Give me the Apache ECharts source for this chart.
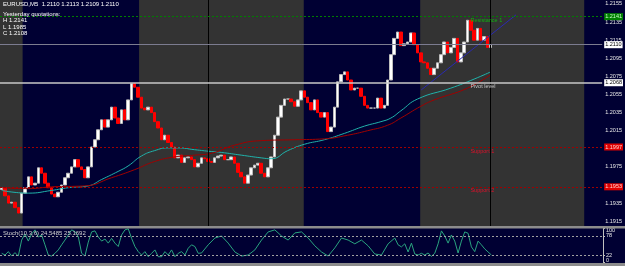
<!DOCTYPE html>
<html>
<head>
<meta charset="utf-8">
<script src="https://cdn.jsdelivr.net/npm/echarts@6.0.0/dist/echarts.min.js"></script>
<style>
html, body { margin: 0; padding: 0; background: #000033; }
#chart { width: 625px; height: 266px; }
</style>
</head>
<body>
<div id="chart"></div>
<script>
// EURUSD M5 closes, one value per bar
var firstOpen = 1.1950;
var closes = [
  1.1952, 1.1943, 1.1935, 1.1936, 1.1930, 1.1924, 1.1946, 1.1952, 1.1964, 1.1955,
  1.1957, 1.1974, 1.1968, 1.1957, 1.1952, 1.1945, 1.1942, 1.1947, 1.1955, 1.1963,
  1.1968, 1.1975, 1.1983, 1.1975, 1.1972, 1.1963, 1.1975, 1.1997, 1.2005, 1.2016,
  1.2027, 1.2019, 1.2027, 1.2041, 1.2029, 1.2023, 1.2038, 1.2027, 1.2049, 1.2067,
  1.2063, 1.2052, 1.2040, 1.2038, 1.2041, 1.2035, 1.2025, 1.2018, 1.2005, 1.2010,
  1.2002, 1.1997, 1.1985, 1.1988, 1.1980, 1.1985, 1.1986, 1.1983, 1.1975, 1.1979,
  1.1985, 1.1984, 1.1981, 1.1980, 1.1985, 1.1987, 1.1988, 1.1983, 1.1983, 1.1986,
  1.1979, 1.1969, 1.1964, 1.1957, 1.1966, 1.1974, 1.1977, 1.1979, 1.1968, 1.1964,
  1.1974, 1.1986, 1.2010, 1.2030, 1.2043, 1.2050, 1.2050, 1.2047, 1.2042, 1.2049,
  1.2059, 1.2052, 1.2046, 1.2038, 1.2049, 1.2035, 1.2030, 1.2035, 1.2014, 1.2019,
  1.2041, 1.2069, 1.2077, 1.2080, 1.2071, 1.2060, 1.2062, 1.2062, 1.2053, 1.2043,
  1.2040, 1.2040, 1.2040, 1.2051, 1.2040, 1.2043, 1.2071, 1.2099, 1.2117, 1.2124,
  1.2109, 1.2111, 1.2113, 1.2123, 1.2110, 1.2101, 1.2091, 1.2090, 1.2084, 1.2077,
  1.2084, 1.2090, 1.2099, 1.2113, 1.2101, 1.2107, 1.2117, 1.2091, 1.2101, 1.2113,
  1.2137, 1.2126, 1.2115, 1.2128, 1.2115, 1.2119, 1.2107, 1.2110
];
var barSlots = 181;

// moving averages, [bar, value]
var maCyan = [[0,1.1949],[8,1.1946],[15,1.1949],[20,1.1952],[26,1.1954],[30,1.1961],
  [35,1.1970],[38,1.1976],[42,1.1987],[46,1.1993],[50,1.1996],[53,1.1996],[58,1.1994],
  [63,1.1992],[66,1.1991],[72,1.1988],[78,1.1985],[81,1.1984],[86,1.1993],[91,1.2000],
  [97,1.2005],[103,1.2012],[109,1.2020],[114,1.2025],[117,1.2029],[120,1.2037],
  [125,1.2050],[135,1.2062],[142,1.2072],[147,1.2080]];
var maRed = [[0,1.1952],[8,1.1951],[15,1.1953],[25,1.1954],[33,1.1963],[40,1.1972],
  [46,1.1981],[52,1.1986],[58,1.1988],[63,1.1990],[70,1.1999],[78,1.2004],[88,1.2005],
  [97,1.2006],[104,1.2010],[110,1.2015],[116,1.2021],[120,1.2029],[126,1.2042],
  [130,1.2049],[140,1.2062],[147,1.2077]];

// stochastic main line, [bar, value]
var stoch = [[0,27],[1,22],[2,32],[3,19],[4,29],[5,19],[6,66],[7,84],[8,63],[9,84],
  [10,96],[11,75],[12,81],[13,52],[14,22],[15,19],[16,27],[17,37],[18,52],[19,66],
  [20,81],[21,96],[22,91],[23,76],[24,27],[25,19],[26,60],[27,90],[28,93],[29,75],
  [30,63],[31,69],[32,57],[33,71],[34,57],[35,47],[36,81],[37,96],[38,99],[39,71],
  [40,47],[41,32],[42,22],[43,32],[44,17],[45,27],[46,37],[47,17],[48,17],[49,32],
  [50,22],[51,37],[52,17],[53,27],[54,32],[55,22],[56,42],[57,52],[58,47],[59,27],
  [60,28],[62,52],[64,72],[66,78],[68,57],[70,31],[72,19],[74,22],[76,37],[78,66],
  [80,90],[82,96],[84,78],[86,66],[88,87],[90,90],[92,72],[94,49],[96,31],[98,19],
  [100,43],[102,72],[104,66],[106,55],[108,66],[110,49],[112,25],[114,22],[116,55],
  [118,72],[119,52],[120,46],[121,55],[122,31],[123,57],[124,25],[125,22],[126,27],
  [127,22],[128,28],[129,18],[130,27],[131,55],[132,93],[133,78],[134,57],[135,81],
  [136,63],[137,28],[138,63],[139,90],[140,86],[141,46],[142,32],[143,63],[144,52],
  [145,40],[146,31],[147,22]];

// session shading (bar units) and separators
var grayBands = [[0, 6.8], [41.8, 91.3], [126.3, 175.6]];
var dayLines = [62.7, 147.3];
var trendLine = [[126.6, 1.2060], [155.1, 1.2143]];

// levels
var resistance1 = 1.2141;
var lastPrice = 1.2110;
var pivotLevel = 1.2068;
var support1 = 1.1997;
var support2 = 1.1953;

var priceTicks = [1.2155, 1.2135, 1.2115, 1.2095, 1.2075, 1.2055, 1.2035, 1.2015, 1.1975, 1.1935, 1.1915];
var stochTicks = [100, 78, 22, 0];
var stochLevels = [78, 22];
// where the "100" and "0" scale texts sit (kept inside the small panel)
var stochEdgeLabels = [[95, '100'], [6, '0']];
var priceMin = 1.19097, priceMax = 1.21594;

var FONT = 'Liberation Sans';

var cats = [];
for (var i = 0; i < barSlots; i++) cats.push(String(i));
var candles = [];
var prev = firstOpen;
closes.forEach(function (c) {
  candles.push([prev, c, Math.min(prev, c), Math.max(prev, c)]);
  prev = c;
});

function boxLabel(bg, fg) {
  return {
    show: true, position: 'end', distance: 2,
    formatter: function (p) { return Number(p.value).toFixed(4); },
    backgroundColor: bg, color: fg, fontSize: 5.5, fontFamily: FONT,
    padding: [1, 1, 0, 1]
  };
}
function textSeg(v, text, color) {
  return [
    { coord: [141.1, v], lineStyle: { color: 'rgba(0,0,0,0)', width: 0 },
      label: { show: true, position: 'insideStartBottom', distance: 1, formatter: text,
               color: color, fontSize: 5.5, fontFamily: FONT } },
    { coord: [152, v] }
  ];
}
function stochEdge(e) {
  return {
    yAxis: e[0], lineStyle: { color: 'rgba(0,0,0,0)', width: 0 },
    label: { show: true, position: 'end', distance: 3, formatter: e[1],
             color: '#e8e8e8', fontSize: 5.5, fontFamily: FONT }
  };
}

var chart = echarts.init(document.getElementById('chart'));
chart.setOption({
  backgroundColor: '#000033',
  animation: false,
  grid: [
    { left: 0, top: 0, width: 603, height: 226 },
    { left: 0, top: 228.5, width: 603, height: 34 }
  ],
  xAxis: [
    { type: 'category', gridIndex: 0, data: cats, show: false },
    { type: 'value', gridIndex: 0, min: 0, max: barSlots, show: false },
    { type: 'category', gridIndex: 1, data: cats, show: false }
  ],
  yAxis: [
    {
      type: 'value', gridIndex: 0, position: 'right', min: priceMin, max: priceMax,
      splitLine: { show: false },
      axisLine: { show: true, lineStyle: { color: '#c0c0c0' } },
      axisTick: { show: true, length: 2, customValues: priceTicks, lineStyle: { color: '#c0c0c0' } },
      axisLabel: { customValues: priceTicks, color: '#e8e8e8', fontSize: 5.5, fontFamily: FONT, margin: 3,
                   formatter: function (v) { return v.toFixed(4); } }
    },
    {
      type: 'value', gridIndex: 1, position: 'right', min: 0, max: 100,
      splitLine: { show: false },
      axisLine: { show: true, lineStyle: { color: '#c0c0c0' } },
      axisTick: { show: true, length: 2, customValues: stochTicks, lineStyle: { color: '#c0c0c0' } },
      axisLabel: { customValues: stochLevels, color: '#e8e8e8', fontSize: 5.5, fontFamily: FONT, margin: 3 }
    }
  ],
  series: [
    {
      // session bands
      type: 'line', xAxisIndex: 1, yAxisIndex: 0, data: [], z: 0, silent: true,
      markArea: {
        silent: true, itemStyle: { color: '#333333' },
        data: grayBands.map(function (b) { return [{ xAxis: b[0] }, { xAxis: b[1] }]; })
      }
    },
    {
      // levels and separators
      type: 'line', xAxisIndex: 1, yAxisIndex: 0, data: [], z: 2, silent: true,
      markLine: {
        silent: true, symbol: 'none', animation: false, precision: 4,
        data: [
          { xAxis: dayLines[0], lineStyle: { color: '#000000', width: 1, type: 'solid' }, label: { show: false } },
          { xAxis: dayLines[1], lineStyle: { color: '#000000', width: 1, type: 'solid' }, label: { show: false } },
          { yAxis: resistance1, lineStyle: { color: '#008000', width: 1, type: [2, 2] }, label: boxLabel('#008000', '#c8ffc8') },
          { yAxis: lastPrice, lineStyle: { color: '#7c7c90', width: 1, type: 'solid' }, label: boxLabel('#ffffff', '#000000') },
          { yAxis: pivotLevel, lineStyle: { color: '#c8c8c8', width: 1.5, type: 'solid' }, label: boxLabel('#ffffff', '#000000') },
          { yAxis: support1, lineStyle: { color: '#a00000', width: 1, type: [2, 2] }, label: boxLabel('#e00000', '#ffd0d0') },
          { yAxis: support2, lineStyle: { color: '#a00000', width: 1, type: [2, 2] }, label: boxLabel('#e00000', '#ffd0d0') },
          textSeg(resistance1, 'Resistance 1', '#10b010'),
          textSeg(pivotLevel, 'Pivot level', '#c8c8c8'),
          textSeg(support1, 'Support 1', '#e0102a'),
          textSeg(support2, 'Support 2', '#e0102a')
        ]
      }
    },
    {
      type: 'candlestick', xAxisIndex: 0, yAxisIndex: 0, data: candles, z: 3,
      barWidth: 3,
      itemStyle: { color: '#ffffff', color0: '#ff0000', borderColor: '#bdbdbd', borderColor0: '#ff0000', borderWidth: 1 }
    },
    {
      type: 'line', xAxisIndex: 0, yAxisIndex: 0, data: maCyan, z: 4, smooth: true,
      symbol: 'none', lineStyle: { color: '#20b2aa', width: 1 }
    },
    {
      type: 'line', xAxisIndex: 0, yAxisIndex: 0, data: maRed, z: 4, smooth: true,
      symbol: 'none', lineStyle: { color: '#a00000', width: 1 }
    },
    {
      type: 'line', xAxisIndex: 1, yAxisIndex: 0, data: trendLine, z: 4,
      symbol: 'none', lineStyle: { color: '#2a2ab0', width: 1 }
    },
    {
      type: 'line', xAxisIndex: 2, yAxisIndex: 1, data: stoch, z: 3,
      symbol: 'none', lineStyle: { color: '#2aa37f', width: 1 },
      markLine: {
        silent: true, symbol: 'none', label: { show: false },
        lineStyle: { color: '#a0a0a0', width: 1, type: [2, 2] },
        data: [
          { yAxis: stochLevels[0] },
          { yAxis: stochLevels[1] },
          stochEdge(stochEdgeLabels[0]),
          stochEdge(stochEdgeLabels[1])
        ]
      }
    }
  ],
  graphic: [
    { type: 'rect', left: 0, top: 226, shape: { width: 625, height: 2.5 }, style: { fill: '#8c8c8c' }, z: 10 },
    { type: 'rect', left: 0, top: 263, shape: { width: 625, height: 3 }, style: { fill: '#8c8c8c' }, z: 10 },
    { type: 'text', left: 3, top: 1.5, z: 10,
      style: { text: 'EURUSD,M5  1.2110 1.2113 1.2109 1.2110', fill: '#ffffff', font: '6px ' + FONT } },
    { type: 'text', left: 3, top: 11, z: 10,
      style: { text: 'Yesterday quotations:\nH 1.2141\nL 1.1985\nC 1.2108', fill: '#ffffff',
               font: '6px ' + FONT, lineHeight: 6.5 } },
    { type: 'text', left: 3, top: 230, z: 10,
      style: { text: 'Stoch(10,3,6) 24.5485 25.1692', fill: '#d0d0d0', font: '6px ' + FONT } }
  ]
});
</script>
</body>
</html>
